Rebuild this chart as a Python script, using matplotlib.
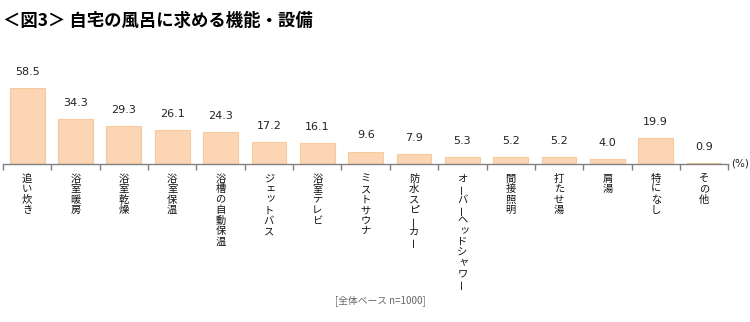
import matplotlib
matplotlib.use("Agg")
import matplotlib.pyplot as plt
import numpy as np

plt.rcParams['font.family'] = ['Noto Sans CJK JP', 'DejaVu Sans']

#! data
categories = ["追い炊き", "浴室暖房", "浴室乾燥", "浴室保温", "浴槽の自動保温",
              "ジェットバス", "浴室テレビ", "ミストサウナ", "防水スピーカー",
              "オーバーヘッドシャワー", "間接照明", "打たせ湯", "肩湯", "特になし", "その他"]
values = [58.5, 34.3, 29.3, 26.1, 24.3, 17.2, 16.1, 9.6, 7.9, 5.3, 5.2, 5.2, 4.0, 19.9, 0.9]

TITLE    = "＜図3＞ 自宅の風呂に求める機能・設備"
FOOTNOTE = "[全体ベース n=1000]"

BAR_FILL = "#FCD5B4"
BAR_EDGE = "#F9C9A0"
AXIS_COL = "#808080"

SMALL_KANA = set("ッャュョァィゥェォっゃゅょ")

fig = plt.figure(figsize=(7.5, 3.22), dpi=100)
ax = fig.add_axes([0.004, 0.4907, 0.967, 0.2826])

x = np.arange(len(categories))
ax.bar(x, values, width=0.72, color=BAR_FILL, edgecolor=BAR_EDGE, linewidth=0.8)

# value labels above bars
for xi, v in zip(x, values):
    ax.annotate(f"{v:.1f}", xy=(xi, v), xytext=(0, 8), textcoords="offset points",
                ha="center", va="bottom", fontsize=8, color="#222222",
                family=["DejaVu Sans"])

ax.set_xlim(-0.5, len(categories) - 0.5)
ax.set_ylim(0, 70)
ax.set_yticks([])
for s in ["top", "right", "left"]:
    ax.spines[s].set_visible(False)
ax.spines["bottom"].set_color(AXIS_COL)
ax.spines["bottom"].set_linewidth(1.0)

# ticks at category boundaries, no labels
ax.set_xticks(np.arange(len(categories) + 1) - 0.5)
ax.set_xticklabels([])
ax.tick_params(axis="x", length=4, width=1, color=AXIS_COL, direction="out")

# vertical (tategaki) category labels, one char per line
step = 7.6
for xi, lab in zip(x, categories):
    for j, ch in enumerate(lab):
        dx, dy, rot = 0, 0, 0
        if ch == "ー":
            rot = 90
        elif ch in SMALL_KANA:
            dx, dy = 1.2, 1.0
        ax.annotate(ch, xy=(xi, 0), xycoords="data",
                    xytext=(dx, -10.5 - j * step + dy), textcoords="offset points",
                    ha="center", va="center", fontsize=7.4, rotation=rot,
                    color="#111111", annotation_clip=False)

# unit
ax.annotate("(%)", xy=(1.0, 0), xycoords="axes fraction", xytext=(2, 0),
            textcoords="offset points", ha="left", va="center", fontsize=7.5,
            color="#222222", family=["DejaVu Sans"])

fig.text(0.004, 0.935, TITLE, fontsize=12.5, fontweight="bold", ha="left", va="center")
fig.text(0.507, 0.068, FOOTNOTE, fontsize=7, color="#666666", ha="center", va="center")

fig.savefig("out.png", dpi=100)
